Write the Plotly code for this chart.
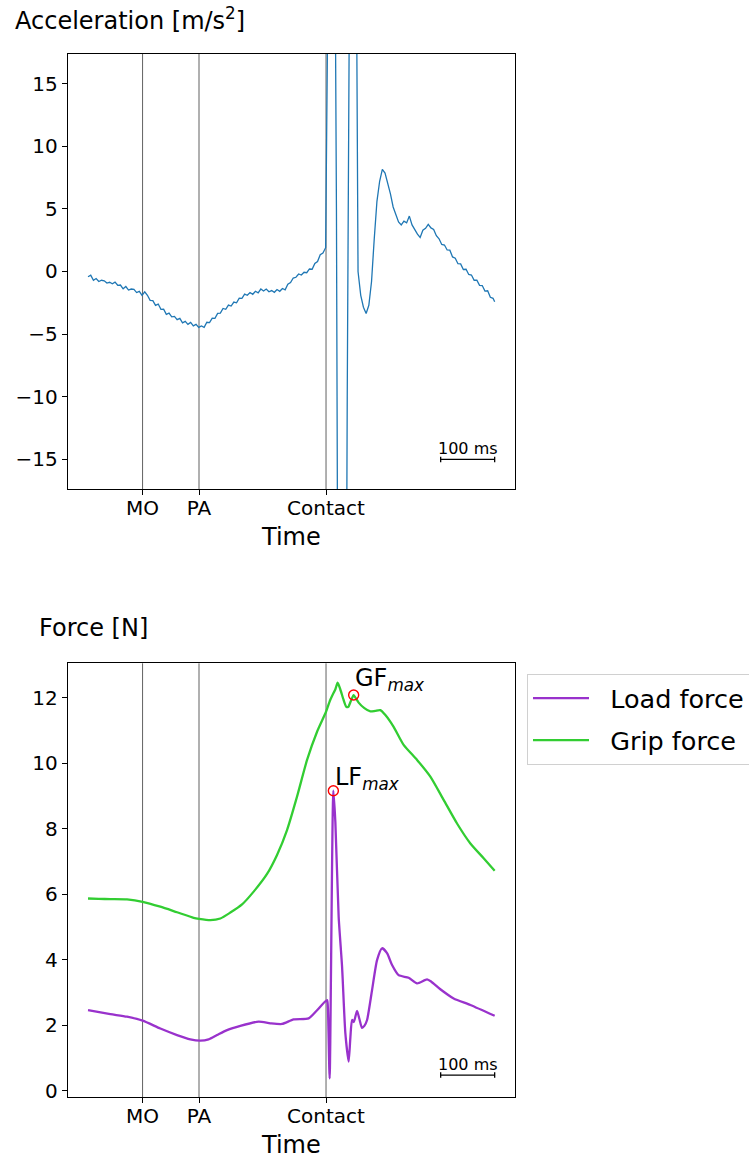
import plotly.graph_objects as go

# ---------------------------------------------------------------- data
# Event markers on the time axis (ms from start of recording)
event_times = [101, 205.5, 440.7]
event_labels = ["MO", "PA", "Contact"]

# Accelerometer signal, sampled every 5 ms (m/s^2)
acc_t = list(range(0, 755, 5)) + [753]
acc = [
    -0.42, -0.30, -0.70, -0.56, -0.80, -0.70, -0.74, -0.92, -0.86, -0.98,
    -0.85, -1.10, -1.08, -1.38, -1.20, -1.48, -1.40, -1.42, -1.68, -1.58,
    -1.90, -1.62, -1.90, -2.30, -2.32, -2.70, -2.60, -3.02, -3.00, -3.42,
    -3.32, -3.62, -3.58, -3.84, -3.74, -4.10, -3.98, -4.22, -4.06, -4.34,
    -4.22, -4.46, -4.34, -4.46, -4.05, -4.08, -3.72, -3.74, -3.35, -3.32,
    -2.95, -3.02, -2.68, -2.76, -2.44, -2.50, -2.12, -2.14, -1.80, -1.90,
    -1.68, -1.82, -1.58, -1.70, -1.40, -1.56, -1.40, -1.62, -1.52, -1.66,
    -1.44, -1.58, -1.36, -1.46, -1.02, -0.88, -0.52, -0.46, -0.20, -0.28,
    -0.06, -0.10, 0.20, 0.18, 0.64, 0.80, 1.34, 1.48, 1.90, 14.0,
    50.0, 45.0, 5.0, -60.0, -75.0, -65.0, -10.0, 30.0, 55.0, 40.0,
    0.0, -1.9, -2.85, -3.35, -2.7, -0.8, 2.6, 5.6, 7.2, 8.15,
    7.85, 7.05, 6.2, 5.15, 4.55, 3.95, 3.72, 4.02, 3.88, 4.42,
    3.72, 3.32, 2.98, 2.72, 3.29, 3.44, 3.76, 3.48, 3.36, 2.86,
    2.61, 2.16, 2.11, 1.72, 1.70, 1.16, 1.06, 0.62, 0.61, 0.16,
    0.18, -0.24, -0.28, -0.70, -0.70, -1.10, -1.12, -1.56, -1.54, -2.06,
    -2.14, -2.42,
]

# Grip force (N)
gf_t = [0, 20, 41.3, 72.2, 101.1, 133.9, 164.8, 195.6, 205.6, 226.5,
        245, 263.5, 285.2, 306.7, 331.5, 350, 368.5, 387, 405.6, 424.1,
        440.7, 448.3, 454.8, 457.9, 462.2, 467.2, 473.3, 478.3, 482, 486.7,
        491.9, 496, 501.1, 511.7, 522.8, 532, 541.3, 550.6, 565.9, 584.4,
        609.3, 633.9, 658.5, 683.3, 708, 732.6, 753]
gf = [5.87, 5.86, 5.85, 5.84, 5.77, 5.62, 5.45, 5.28, 5.25, 5.21,
      5.26, 5.44, 5.69, 6.08, 6.62, 7.20, 7.96, 8.98, 10.10, 10.96,
      11.57, 11.92, 12.15, 12.25, 12.46, 12.25, 11.93, 11.72, 11.72, 11.90,
      12.08, 11.98, 11.85, 11.68, 11.58, 11.60, 11.62, 11.47, 11.11, 10.56,
      10.10, 9.59, 8.88, 8.16, 7.55, 7.10, 6.72]

# Load force (N)
lf_t = [0, 41.3, 72.2, 101.1, 133.9, 164.8, 189.4, 207.9, 223.3, 238.9,
        257.4, 282, 315.9, 337.6, 359.3, 380.7, 408.5, 424.1, 442.6, 444.1,
        447.4, 454.3, 458, 464.1, 470.4, 476.5, 482.6, 485.7, 488.9, 492.2,
        498.1, 502.4, 507.4, 511.7, 516.7, 525.9, 535.2, 544.4, 553.7, 563,
        575.2, 593.7, 609.3, 627.8, 635.7, 652.4, 677, 708, 753]
lf = [2.46, 2.34, 2.26, 2.14, 1.90, 1.70, 1.57, 1.53, 1.57, 1.70,
      1.85, 1.98, 2.11, 2.06, 2.04, 2.18, 2.21, 2.46, 2.77, 2.55,
      0.38, 9.16, 8.2, 5.31, 3.79, 1.76, 0.89, 1.6, 2.16, 2.10,
      2.44, 2.2, 1.92, 1.98, 2.16, 3.07, 3.99, 4.35, 4.2, 3.84,
      3.53, 3.45, 3.28, 3.40, 3.33, 3.10, 2.82, 2.62, 2.29]

# Time of the marked grip-force peak (ms)
gf_peak_t = 491.9

# Scale bar length (ms)
scalebar_ms = 100

# ---------------------------------------------------------------- styling
FONT = "DejaVu Sans"
W, H = 749, 1158
BLUE = "#1f77b4"
PURPLE = "#9932cc"
GREEN = "#32cd32"

x_range = [-37.65, 790.65]
top_dom = [0.5777, 0.9534]
bot_dom = [0.0524, 0.4272]
x_dom = [67.7 / W, 515 / W]

fig = go.Figure()

fig.add_trace(go.Scatter(x=acc_t, y=acc, mode="lines",
                         line=dict(color=BLUE, width=1.3),
                         showlegend=False, xaxis="x", yaxis="y"))

NBSP = "\u00a0"
fig.add_trace(go.Scatter(x=lf_t, y=lf, mode="lines",
                         name=NBSP * 2 + "Load force",
                         line=dict(color=PURPLE, width=2.3, shape="spline",
                                   smoothing=0.6),
                         legendgroup="lf", xaxis="x2", yaxis="y2"))
fig.add_trace(go.Scatter(x=gf_t, y=gf, mode="lines",
                         name=NBSP * 2 + "Grip force",
                         line=dict(color=GREEN, width=2.3, shape="spline",
                                   smoothing=0.6),
                         legendgroup="gf", xaxis="x2", yaxis="y2"))

# peak markers
lf_i = lf.index(max(lf))
gf_i = gf_t.index(gf_peak_t)
peak_x = [lf_t[lf_i], gf_t[gf_i]]
peak_y = [lf[lf_i], gf[gf_i]]
fig.add_trace(go.Scatter(x=peak_x, y=peak_y, mode="markers",
                         marker=dict(symbol="circle-open", size=10,
                                     color="red", line=dict(width=1.4)),
                         showlegend=False, xaxis="x2", yaxis="y2"))

axis_common = dict(
    showgrid=False, zeroline=False, showline=True, mirror=True,
    linecolor="black", linewidth=1, ticks="outside", ticklen=5,
    tickwidth=1, tickcolor="black",
    tickfont=dict(family=FONT, size=20, color="black"),
)

fig.update_layout(
    width=W, height=H,
    margin=dict(l=0, r=0, t=0, b=0, autoexpand=False),
    paper_bgcolor="white", plot_bgcolor="white",
    font=dict(family=FONT, color="black"),
    xaxis=dict(domain=x_dom, range=x_range, anchor="y", ticklabelstandoff=-4,
               tickvals=event_times, ticktext=event_labels, **axis_common),
    yaxis=dict(domain=top_dom, range=[-17.36, 17.36], anchor="x",
               tickvals=[-15, -10, -5, 0, 5, 10, 15], **axis_common),
    xaxis2=dict(domain=x_dom, range=x_range, anchor="y2", ticklabelstandoff=-4,
                tickvals=event_times, ticktext=event_labels, **axis_common),
    yaxis2=dict(domain=bot_dom, range=[-0.2, 13.05], anchor="x2",
                tickvals=[0, 2, 4, 6, 8, 10, 12], **axis_common),
    legend=dict(x=527 / W, y=1 - 674 / H, xanchor="left", yanchor="top",
                font=dict(family=FONT, size=25.5, color="black"),
                bgcolor="white", bordercolor="#d0d0d0", borderwidth=1,
                itemwidth=56, tracegroupgap=6),
)

shapes = []
# event lines in both panels
for yref in ["y domain", "y2 domain"]:
    xref = "x" if yref.startswith("y ") else "x2"
    for t in event_times:
        shapes.append(dict(type="line", xref=xref, yref=yref, x0=t, x1=t,
                           y0=0, y1=1, layer="below",
                           line=dict(color="rgba(0,0,0,0.62)", width=1)))

# scale bars
t_end = acc_t[-1]
t_start = t_end - scalebar_ms
bars = [("x", "y", -15.0, 0.22), ("x2", "y2", 0.48, 0.083)]
for xref, yref, yb, cap in bars:
    shapes.append(dict(type="line", xref=xref, yref=yref, x0=t_start, x1=t_end,
                       y0=yb, y1=yb, line=dict(color="black", width=1.3)))
    for tx in (t_start, t_end):
        shapes.append(dict(type="line", xref=xref, yref=yref, x0=tx, x1=tx,
                           y0=yb - cap, y1=yb + cap,
                           line=dict(color="black", width=1.3)))

annotations = []
for xref, yref, yb, cap in bars:
    annotations.append(dict(xref=xref, yref=yref, x=(t_start + t_end) / 2, y=yb,
                            text="100 ms", showarrow=False, xanchor="center",
                            yanchor="middle", yshift=11,
                            font=dict(family=FONT, size=16, color="black")))

# panel titles and x labels
annotations += [
    dict(xref="paper", yref="paper", x=13 / W, y=1 - 19.5 / H,
         text="Acceleration [m/s<sup>2</sup>]", showarrow=False,
         xanchor="left", yanchor="middle",
         font=dict(family=FONT, size=24, color="black")),
    dict(xref="paper", yref="paper", x=37 / W, y=1 - 628 / H,
         text="Force [N]", showarrow=False, xanchor="left", yanchor="middle",
         font=dict(family=FONT, size=24, color="black")),
    dict(xref="paper", yref="paper", x=291.4 / W, y=1 - 537.5 / H,
         text="Time", showarrow=False, xanchor="center", yanchor="middle",
         font=dict(family=FONT, size=24, color="black")),
    dict(xref="paper", yref="paper", x=291.4 / W, y=1 - 1145 / H,
         text="Time", showarrow=False, xanchor="center", yanchor="middle",
         font=dict(family=FONT, size=24, color="black")),
]

# peak labels
annotations += [
    dict(xref="x2", yref="y2", x=gf_t[gf_i], y=gf[gf_i],
         text="GF<sub><i>max</i></sub>", showarrow=False,
         xanchor="left", yanchor="bottom", xshift=-1, yshift=-2,
         font=dict(family=FONT, size=24, color="black")),
    dict(xref="x2", yref="y2", x=lf_t[lf_i], y=lf[lf_i],
         text="LF<sub><i>max</i></sub>", showarrow=False,
         xanchor="left", yanchor="bottom", xshift=0, yshift=-5,
         font=dict(family=FONT, size=24, color="black")),
]

fig.update_layout(shapes=shapes, annotations=annotations)
fig.write_html("out.html")
